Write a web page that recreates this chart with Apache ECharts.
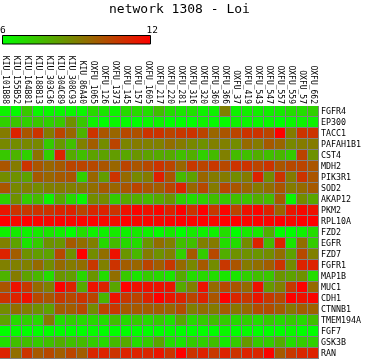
<!DOCTYPE html>
<html><head><meta charset="utf-8">
<script src="https://cdn.jsdelivr.net/npm/echarts@6/dist/echarts.min.js"></script>
<style>html,body{margin:0;padding:0;background:#fff}#c{width:366px;height:359px}</style>
</head><body><div id="c"></div>
<script>
const titleText = 'network 1308 - Loi';
const legendTicks = [6, 12];
const samples = ['KIU_101B88','KIU_155B52','KIU_164B81','KIU_188B13','KIU_303C36','KIU_304C89','KIU_308C93','KIU_86A40','OXFU_1065','OXFU_126','OXFU_1373','OXFU_145','OXFU_157','OXFU_1605','OXFU_217','OXFU_220','OXFU_281','OXFU_316','OXFU_320','OXFU_360','OXFU_366','OXFU_37','OXFU_419','OXFU_543','OXFU_547','OXFU_557','OXFU_559','OXFU_57','OXFU_662'];
const genes = ['FGFR4','EP300','TACC1','PAFAH1B1','CST4','MDH2','PIK3R1','SOD2','AKAP12','PKM2','RPL10A','FZD2','EGFR','FZD7','FGFR1','MAP1B','MUC1','CDH1','CTNNB1','TMEM194A','FGF7','GSK3B','RAN'];
const values = [
 [6.3,6.1,7.3,6.2,6.2,6.2,6.2,6.2,6.9,6.6,6.3,6.9,6.9,6.8,7.5,6.8,6.6,6.7,6.3,6.3,9.0,6.3,6.4,6.4,6.4,6.5,6.8,6.8,7.1],
 [7.1,7.4,7.1,7.3,7.1,7.3,8.6,7.3,6.3,6.0,6.2,6.1,6.0,6.2,6.3,6.0,6.0,6.0,6.3,6.1,6.1,6.3,6.2,6.2,6.2,6.0,6.2,6.3,6.3],
 [9.1,11.2,10.0,10.8,9.1,10.4,9.6,7.8,10.8,10.0,9.6,10.3,10.1,10.8,10.8,10.4,10.7,10.8,10.4,9.6,10.0,10.4,10.8,10.8,10.4,12,9.1,10.8,10.8],
 [8.8,8.7,8.8,8.8,7.2,8.4,7.5,9.0,9.8,8.7,10.4,8.9,9.1,9.0,9.0,9.4,9.1,8.8,8.6,9.0,9.0,8.7,9.5,9.1,9.9,9.6,8.8,9.1,9.1],
 [7.3,7.8,7.1,9.3,7.1,11.2,8.0,7.5,8.2,8.2,8.3,8.1,8.5,8.2,8.0,8.0,7.5,7.9,7.1,7.6,9.0,7.6,7.5,7.9,7.5,7.7,7.2,10.4,8.6],
 [10.0,9.1,10.8,10.0,9.6,9.9,10.4,10.4,10.3,10.0,9.6,10.4,10.0,10.3,10.8,10.4,9.6,10.7,10.4,10.7,10.3,10.8,10.8,10.4,10.8,10.0,10.3,10.4,10.0],
 [8.7,8.6,8.2,9.9,9.6,9.9,10.0,7.1,9.6,8.3,10.8,9.5,8.8,9.1,11.3,10.0,7.6,8.2,9.6,9.1,9.1,8.7,9.1,11.2,8.7,10.8,9.1,10.8,10.0],
 [10.0,8.8,9.0,8.7,9.0,9.1,9.0,9.1,9.4,9.9,9.6,10.0,10.4,10.0,9.8,10.4,11.2,9.6,10.3,9.1,10.3,10.0,9.6,9.1,9.4,10.0,9.1,9.5,9.9],
 [7.1,8.6,7.2,7.6,6.3,8.0,6.9,6.2,8.7,8.7,7.2,8.0,7.9,7.6,8.0,8.5,7.1,6.8,7.1,7.5,7.3,7.5,7.4,7.9,7.6,9.8,6.2,8.7,8.1],
 [11.5,10.8,10.7,10.8,10.8,11.1,11.2,10.4,11.1,11.2,10.8,11.6,11.9,11.6,11.9,11.2,12,10.8,12,10.7,11.9,10.4,11.6,11.9,11.2,9.7,11.5,11.8,11.6],
 [12,11.8,12,11.9,11.8,11.9,11.8,11.9,11.9,11.8,11.7,12,11.8,11.9,11.8,11.9,12,11.9,12,11.8,12,12,11.9,12,11.9,12,11.8,12,12],
 [6.3,6.5,6.3,6.5,6.6,6.4,6.0,6.8,6.3,6.3,6.5,6.3,6.5,6.3,6.1,6.5,6.0,6.5,6.3,6.3,6.8,6.0,6.5,6.5,7.9,6.0,6.0,6.3,6.8],
 [9.0,8.2,6.6,7.2,8.6,8.5,9.9,9.4,9.0,6.9,7.6,6.9,6.8,8.5,9.4,9.0,7.5,7.5,9.0,9.1,6.8,6.8,8.7,11.2,7.6,11.2,6.6,9.4,7.2],
 [11.2,9.8,8.6,8.3,8.2,10.3,8.6,12,8.7,9.4,11.6,8.5,7.7,9.1,8.6,9.0,7.1,9.9,7.2,10.3,7.9,8.6,8.6,8.5,8.7,9.4,8.2,10.3,9.0],
 [9.0,9.0,9.0,9.5,8.7,9.5,9.1,9.4,10.7,9.0,10.8,9.8,9.6,10.4,9.8,10.7,9.5,8.8,9.9,8.7,10.7,10.0,9.1,9.4,9.8,10.8,8.7,11.2,11.2],
 [7.8,9.1,8.2,7.7,6.8,8.5,8.3,6.9,8.5,6.8,9.4,7.3,6.6,7.2,6.9,6.6,8.0,6.8,6.9,6.8,6.6,6.6,7.1,7.5,7.3,8.5,8.2,8.6,6.8],
 [10.0,11.6,10.7,9.5,9.0,12,11.2,8.0,11.6,11.2,8.1,12,11.6,11.6,11.6,11.5,8.0,9.0,11.6,9.5,10.3,10.0,9.5,11.6,8.4,9.0,10.7,12,9.5],
 [10.8,11.2,11.6,10.3,10.0,10.7,10.3,10.8,10.4,7.7,11.6,10.7,10.4,11.2,12,11.5,11.2,10.4,11.2,10.0,12,11.1,10.7,11.5,10.7,10.3,12,11.6,11.9],
 [8.7,9.4,9.0,8.6,8.2,9.8,9.8,10.3,8.7,10.4,10.7,9.9,9.9,9.8,9.8,9.6,10.2,9.0,9.4,9.1,9.8,9.2,9.5,10.2,10.2,9.8,9.2,9.8,9.7],
 [8.2,6.9,7.1,6.9,9.1,6.8,7.1,6.9,6.9,6.8,7.5,6.9,7.2,6.9,7.2,6.7,8.0,6.9,7.2,7.5,7.2,6.9,7.1,6.8,7.2,6.9,7.2,6.9,7.5],
 [6.0,6.1,6.0,6.0,6.0,6.0,6.0,6.0,6.1,6.0,6.0,6.0,6.0,6.0,6.0,6.1,6.0,6.0,6.0,6.0,6.2,6.0,6.1,6.0,6.0,6.0,6.2,6.0,6.0],
 [6.8,7.5,7.5,7.2,7.5,7.9,7.5,7.6,7.2,6.9,7.6,8.0,6.8,7.2,8.1,6.8,6.6,7.2,7.1,7.5,6.5,7.2,8.4,7.2,7.2,7.9,6.8,7.2,7.1],
 [11.2,9.4,10.8,9.9,10.3,9.8,10.4,9.8,11.1,11.2,10.8,11.2,11.2,11.1,11.5,10.8,12,10.8,11.2,10.7,11.2,10.8,11.2,11.1,11.9,9.9,10.7,11.1,11.2]
];

const cells = [];
values.forEach((row, j) => row.forEach((v, i) => cells.push([i, j, v])));

const FONT = 'DejaVu Sans Mono';
const chart = echarts.init(document.getElementById('c'), null, {renderer: 'canvas'});
chart.setOption({
  animation: false,
  backgroundColor: '#fff',
  grid: {left: 0, right: 47, top: 106, bottom: 0, show: true, backgroundColor: '#808080', borderWidth: 0},
  xAxis: {
    type: 'category', data: samples, position: 'top',
    axisLine: {show: false}, axisTick: {show: false}, splitLine: {show: false},
    axisLabel: {rotate: 90, interval: 0, fontSize: 8, fontFamily: FONT, color: '#000', margin: 2}
  },
  yAxis: {
    type: 'category', data: genes, position: 'right', inverse: true,
    axisLine: {show: false}, axisTick: {show: false}, splitLine: {show: false},
    axisLabel: {interval: 0, fontSize: 8.3, fontFamily: FONT, color: '#000', margin: 2}
  },
  visualMap: {
    type: 'continuous', show: false, min: legendTicks[0], max: legendTicks[1], dimension: 2, seriesIndex: 0,
    inRange: {color: ['#00ff00', '#ff0000']}
  },
  series: [{
    type: 'custom',
    data: cells,
    encode: {x: 0, y: 1},
    renderItem: function (params, api) {
      const c = api.coord([api.value(0), api.value(1)]);
      const s = api.size([1, 1]);
      return {
        type: 'rect',
        shape: {x: c[0] - s[0] / 2, y: c[1] - s[1] / 2, width: s[0] - 1, height: s[1] - 1},
        style: {fill: api.visual('color')}
      };
    }
  }],
  graphic: [
    {type: 'text', left: 180 - 71, top: 3, style: {text: titleText, font: '13px "DejaVu Sans Mono"', fill: '#000'}},
    {type: 'rect', shape: {x: 2.5, y: 35.5, width: 148, height: 8.5},
     style: {fill: new echarts.graphic.LinearGradient(0, 0, 1, 0, [{offset: 0, color: '#00ff00'}, {offset: 1, color: '#ff0000'}]), stroke: '#000', lineWidth: 1}},
    {type: 'text', x: 0, y: 26, style: {text: String(legendTicks[0]), font: '9.5px "DejaVu Sans Mono"', fill: '#000'}},
    {type: 'text', x: 146.5, y: 26, style: {text: String(legendTicks[1]), font: '9.5px "DejaVu Sans Mono"', fill: '#000'}}
  ]
});
</script></body></html>
